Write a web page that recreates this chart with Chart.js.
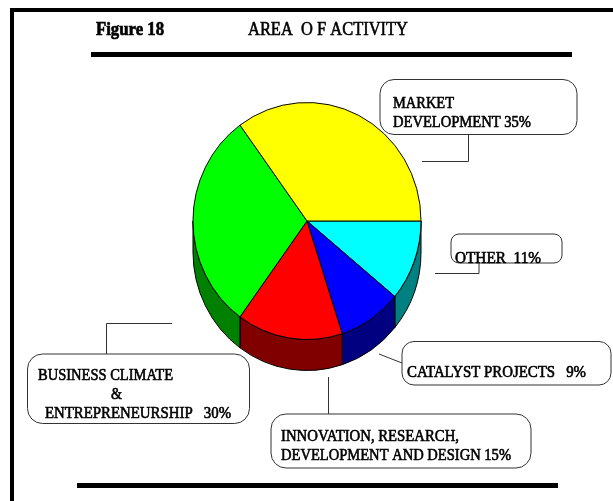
<!DOCTYPE html>
<html lang="en">
<head>
    <meta charset="UTF-8">
    <title>Area of Activity</title>
    <style>
        body {
            margin: 0;
            background-color: #fff;
        }
        canvas {
            display: block;
        }
    </style>
</head>
<body>
    <canvas id="chart" width="613" height="501"></canvas>

    <script src="https://cdn.jsdelivr.net/npm/chart.js"></script>

    <script>
        // Slices, clockwise from 3 o'clock
        const categories = ['Other', 'Catalyst Projects', 'Innovation, Research, Development and Design', 'Business Climate & Entrepreneurship', 'Market Development'];
        const shares = [11, 9, 15, 30, 35];
        const topColors = ['#00ffff', '#0000ff', '#ff0000', '#00ff00', '#ffff00'];
        const sideColors = ['#008080', '#000080', '#800000', '#008000', '#808000'];

        // Heavy rules: x, y, w, h
        const rules = [
            [10, 8, 603, 4],
            [10, 8, 4, 493],
            [91, 52, 481, 5],
            [77, 483, 481, 5]
        ];

        // Callout boxes: x, y, w, h, corner radius
        const boxes = [
            [380, 79.5, 197, 55, 14],
            [451, 234, 111, 29, 8],
            [402, 341.5, 209, 43.5, 12],
            [271, 414, 260, 54, 15],
            [27.5, 354, 222, 69.5, 15]
        ];

        // Leader lines as point lists
        const leaders = [
            [[422, 161.5], [468.5, 161.5], [468.5, 135]],
            [[435, 273.5], [479, 273.5], [479, 263]],
            [[379, 354], [402, 363]],
            [[328.5, 377], [328.5, 414]],
            [[172, 323.5], [106.5, 323.5], [106.5, 354]]
        ];

        // Text: string, left x, baseline y, width on the page
        const figureTitle = ['Figure 18', 96, 35, 68];
        const areaTitle = ['AREA  O F ACTIVITY', 248, 35, 160];
        const labels = [
            ['MARKET', 393, 108, 61],
            ['DEVELOPMENT 35%', 393, 127, 138],
            ['OTHER  11%', 455, 263, 86],
            ['CATALYST PROJECTS   9%', 407, 377, 179],
            ['INNOVATION, RESEARCH,', 281, 441, 178],
            ['DEVELOPMENT AND DESIGN 15%', 281, 460, 230],
            ['BUSINESS CLIMATE', 38, 380, 135],
            ['&', 111, 399, 11],
            ['ENTREPRENEURSHIP   30%', 45, 418, 186]
        ];

        const xSquash = 114.5 / 119;   // the pie is a little narrower than tall
        const sideDepth = 31;

        function drawRoundBox(ctx, b) {
            ctx.beginPath();
            ctx.roundRect(b[0], b[1], b[2], b[3], b[4]);
            ctx.fillStyle = '#fff';
            ctx.fill();
            ctx.strokeStyle = '#333';
            ctx.lineWidth = 1;
            ctx.stroke();
        }

        // The scan has tall condensed type, so squeeze each string to its width
        function drawText(ctx, t, font, heavy) {
            ctx.save();
            ctx.font = font;
            ctx.translate(t[1], t[2]);
            ctx.scale(t[3] / ctx.measureText(t[0]).width, 1);
            ctx.fillStyle = '#000';
            ctx.strokeStyle = '#000';
            ctx.lineWidth = heavy;
            ctx.fillText(t[0], 0, 0);
            ctx.strokeText(t[0], 0, 0);
            ctx.restore();
        }

        // Paper furniture behind the pie, and text on top of everything
        const page = {
            id: 'page',
            beforeDatasetsDraw(chart) {
                const ctx = chart.ctx;
                ctx.save();
                ctx.fillStyle = '#000';
                rules.forEach(r => ctx.fillRect(r[0], r[1], r[2], r[3]));
                boxes.forEach(b => drawRoundBox(ctx, b));
                ctx.strokeStyle = '#333';
                ctx.lineWidth = 1;
                leaders.forEach(line => {
                    ctx.beginPath();
                    line.forEach((p, i) => i ? ctx.lineTo(p[0], p[1]) : ctx.moveTo(p[0], p[1]));
                    ctx.stroke();
                });
                ctx.restore();
            },
            afterDraw(chart) {
                const ctx = chart.ctx;
                ctx.save();
                ctx.textBaseline = 'alphabetic';
                drawText(ctx, figureTitle, 'bold 19px "Liberation Serif"', 0.7);
                drawText(ctx, areaTitle, '19px "Liberation Serif"', 0.6);
                labels.forEach(t => drawText(ctx, t, '16px "Liberation Serif"', 0.6));
                ctx.restore();
            }
        };

        // Squashes the pie and draws its side wall from the arc elements
        const tiltedPie = {
            id: 'tiltedPie',
            beforeDatasetsDraw(chart) {
                const ctx = chart.ctx;
                const arcs = chart.getDatasetMeta(0).data;
                const cx = arcs[0].x;
                ctx.save();
                ctx.translate(cx, 0);
                ctx.scale(xSquash, 1);
                ctx.translate(-cx, 0);

                ctx.strokeStyle = '#000';
                ctx.lineWidth = 1;
                arcs.forEach((arc, i) => {
                    const from = Math.max(arc.startAngle, 0);
                    const to = Math.min(arc.endAngle, Math.PI);
                    if (to <= from) return;
                    ctx.beginPath();
                    ctx.arc(arc.x, arc.y, arc.outerRadius, from, to);
                    ctx.arc(arc.x, arc.y + sideDepth, arc.outerRadius, to, from, true);
                    ctx.closePath();
                    ctx.fillStyle = sideColors[i];
                    ctx.fill();
                    ctx.stroke();
                });
            },
            afterDatasetsDraw(chart) {
                chart.ctx.restore();
            }
        };

        new Chart(document.getElementById('chart').getContext('2d'), {
            type: 'pie',
            data: {
                labels: categories,
                datasets: [{
                    data: shares,
                    backgroundColor: topColors,
                    borderColor: '#000000',
                    borderWidth: 1,
                    clip: false
                }]
            },
            options: {
                responsive: false,
                animation: false,
                rotation: 90,
                layout: {
                    padding: { left: 1, right: 0, top: 102, bottom: 161 }
                },
                plugins: {
                    legend: { display: false },
                    tooltip: { enabled: false }
                }
            },
            plugins: [page, tiltedPie]
        });
    </script>
</body>
</html>
